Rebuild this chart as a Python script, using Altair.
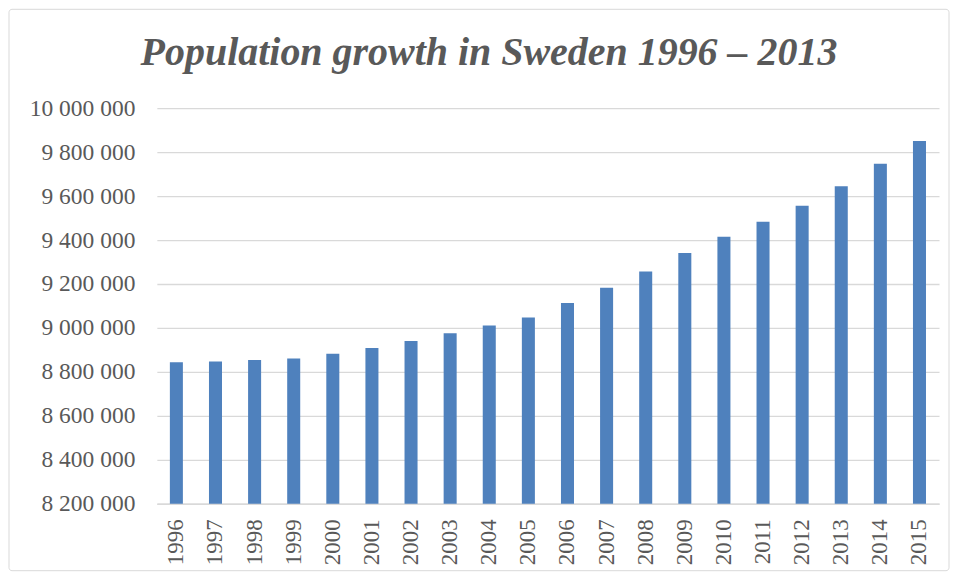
import altair as alt
import pandas as pd

years = [str(y) for y in range(1996, 2016)]
population = [8844499, 8847625, 8854322, 8861426, 8882792, 8909128, 8940788,
              8975670, 9011392, 9047752, 9113257, 9182927, 9256347, 9340682,
              9415570, 9482855, 9555893, 9644864, 9747355, 9851017]
title_text = "Population growth in Sweden 1996 \u2013 2013"

df = pd.DataFrame({"year": years, "population": population})

FONT = "Liberation Serif"
GRAY = "#595959"

bars = alt.Chart(df).mark_bar(color="#4f81bd", clip=True).encode(
    x=alt.X("year:N", title=None, sort=None,
            scale=alt.Scale(paddingInner=0.667, paddingOuter=0.333),
            axis=alt.Axis(labelAngle=-90, labelFont=FONT, labelFontSize=23,
                          labelColor=GRAY, labelPadding=15, ticks=False,
                          domainColor="#d9d9d9", domainWidth=1.5, grid=False)),
    y=alt.Y("population:Q", title=None,
            scale=alt.Scale(domain=[8200000, 10000000], nice=False, zero=False),
            axis=alt.Axis(values=list(range(8200000, 10000001, 200000)),
                          labelExpr="replace(replace(format(datum.value, ','), ',', ' '), ',', ' ')",
                          labelFont=FONT, labelFontSize=23.5, labelColor=GRAY,
                          labelPadding=22, ticks=False, domain=False,
                          gridColor="#d9d9d9", gridWidth=1.3)),
)

border = alt.Chart(pd.DataFrame({"a": [0]})).mark_rect(
    fill=None, stroke="#d9d9d9", strokeWidth=1, cornerRadius=3
).encode(
    x=alt.value(-148), x2=alt.value(793), y=alt.value(-99), y2=alt.value(463)
)

chart = alt.layer(border, bars).properties(
    width=783, height=396, padding=0,
    title=alt.TitleParams(title_text, font=FONT, fontSize=40, fontStyle="italic",
                          fontWeight="bold", color=GRAY, anchor="middle",
                          frame="group", dx=-59, offset=-64),
).configure_view(stroke=None)

chart.save("out.html", embed_options={"renderer": "svg", "actions": False})
